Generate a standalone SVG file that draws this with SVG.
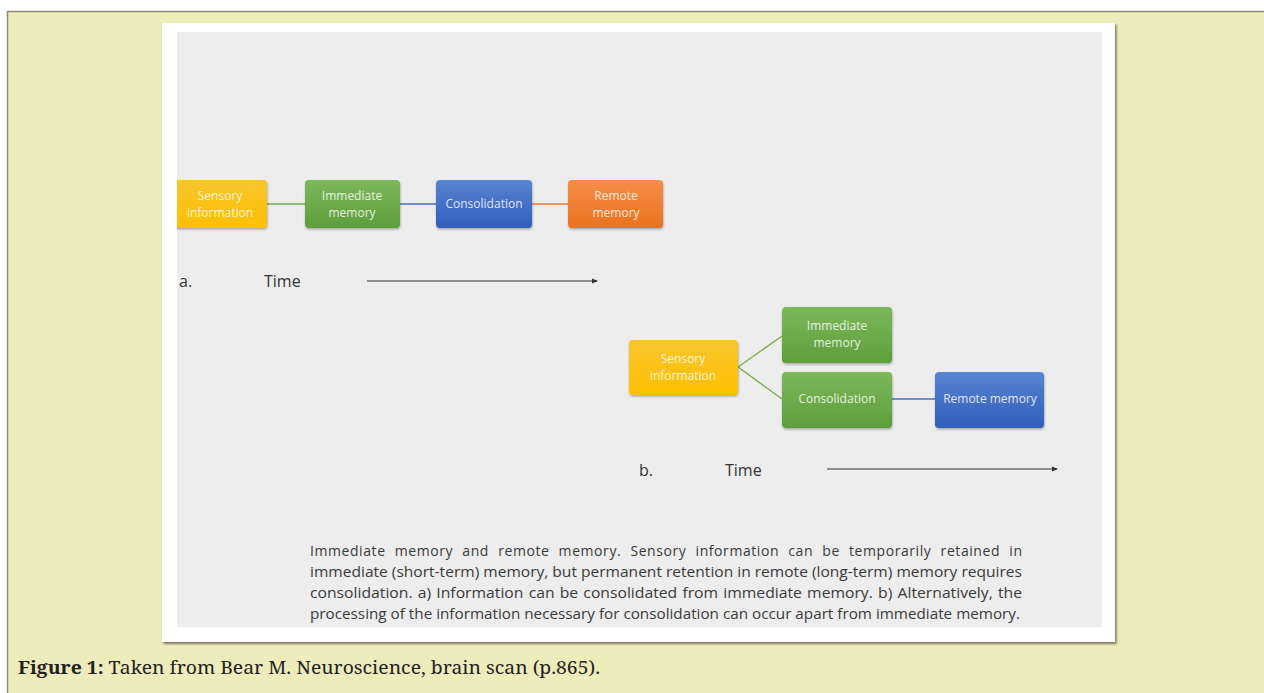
<svg xmlns="http://www.w3.org/2000/svg" width="1264" height="693" viewBox="0 0 1264 693">
<style>
.lbl{font-family:"Open Sans","Liberation Sans",sans-serif;font-size:12px;fill:#ffffff;fill-opacity:0.85;text-anchor:middle}
.tm{font-family:"Open Sans","Liberation Sans",sans-serif;font-size:16px;fill:#333333}
.par{font-family:"Open Sans","Liberation Sans",sans-serif;font-size:14px;fill:#3a3a3a}
.cap{font-family:"Noto Serif","Liberation Serif",serif;font-size:18px;fill:#222222}
.ln{fill:none;stroke-width:1.3}
.arr{fill:none;stroke:#333333;stroke-width:1.2;marker-end:url(#ah)}
</style>
<defs>
<linearGradient id="gy" x1="0" y1="0" x2="0" y2="1"><stop offset="0" stop-color="#F7C52E"/><stop offset="1" stop-color="#FFC000"/></linearGradient>
<linearGradient id="gg" x1="0" y1="0" x2="0" y2="1"><stop offset="0" stop-color="#7DB85A"/><stop offset="1" stop-color="#5E9E3B"/></linearGradient>
<linearGradient id="gb" x1="0" y1="0" x2="0" y2="1"><stop offset="0" stop-color="#5A83D2"/><stop offset="1" stop-color="#2F5EBB"/></linearGradient>
<linearGradient id="go" x1="0" y1="0" x2="0" y2="1"><stop offset="0" stop-color="#F68E47"/><stop offset="1" stop-color="#EA721F"/></linearGradient>
<filter id="sh" x="-10%" y="-10%" width="130%" height="140%"><feDropShadow dx="0.5" dy="1.5" stdDeviation="1" flood-color="#000" flood-opacity="0.3"/></filter>
<filter id="fsh" x="-5%" y="-5%" width="110%" height="110%"><feDropShadow dx="1.5" dy="2" stdDeviation="1.2" flood-color="#000" flood-opacity="0.5"/></filter>
<marker id="ah" markerWidth="6" markerHeight="6" refX="5" refY="3" orient="auto" markerUnits="userSpaceOnUse"><path d="M0,0.5 L6,3 L0,5.5 Z" fill="#333333"/></marker>
<clipPath id="gclip"><rect x="177" y="32" width="925" height="595"/></clipPath>
</defs>
<rect x="0" y="0" width="1264" height="693" fill="#ffffff"/>
<rect x="7.5" y="11.5" width="1270" height="700" fill="#EFECBB" stroke="#8A8A7C" stroke-width="1.5"/>
<rect x="162" y="23" width="953" height="619" fill="#ffffff" filter="url(#fsh)"/>
<rect x="177" y="32" width="925" height="595" fill="#EDEDED"/>

<g id="connectors">
<line class="ln" x1="267" y1="204" x2="305" y2="204" stroke="#70AD47"/>
<line class="ln" x1="400" y1="204" x2="436" y2="204" stroke="#4472C4"/>
<line class="ln" x1="532" y1="204" x2="568" y2="204" stroke="#ED7D31"/>
<line class="ln" x1="738" y1="367" x2="782" y2="336" stroke="#70AD47" stroke-width="1.8"/>
<line class="ln" x1="738" y1="367" x2="782" y2="399" stroke="#70AD47" stroke-width="1.8"/>
<line class="ln" x1="892" y1="399" x2="935" y2="399" stroke="#4472C4"/>
<line class="arr" x1="367" y1="281" x2="597" y2="281"/>
<line class="arr" x1="827" y1="469" x2="1057" y2="469"/>
</g>

<g id="a-sensory" clip-path="url(#gclip)">
<rect x="168" y="180" width="99" height="48" rx="4" fill="url(#gy)" filter="url(#sh)"/>
<text class="lbl" x="220" y="200">Sensory</text>
<text class="lbl" x="220" y="217">information</text>
</g>
<g id="a-immediate">
<rect x="305" y="180" width="95" height="48" rx="4" fill="url(#gg)" filter="url(#sh)"/>
<text class="lbl" x="352" y="200">Immediate</text>
<text class="lbl" x="352" y="217">memory</text>
</g>
<g id="a-consolidation">
<rect x="436" y="180" width="96" height="48" rx="4" fill="url(#gb)" filter="url(#sh)"/>
<text class="lbl" x="484" y="208">Consolidation</text>
</g>
<g id="a-remote">
<rect x="568" y="180" width="95" height="48" rx="4" fill="url(#go)" filter="url(#sh)"/>
<text class="lbl" x="616" y="200">Remote</text>
<text class="lbl" x="616" y="217">memory</text>
</g>

<g id="a-time">
<text class="tm" x="179" y="287">a.</text>
<text class="tm" x="264" y="287">Time</text>
</g>

<g id="b-sensory">
<rect x="629" y="340" width="109" height="55" rx="4" fill="url(#gy)" filter="url(#sh)"/>
<text class="lbl" x="683" y="363">Sensory</text>
<text class="lbl" x="683" y="380">information</text>
</g>
<g id="b-immediate">
<rect x="782" y="307" width="110" height="56" rx="4" fill="url(#gg)" filter="url(#sh)"/>
<text class="lbl" x="837" y="330">Immediate</text>
<text class="lbl" x="837" y="347">memory</text>
</g>
<g id="b-consolidation">
<rect x="782" y="372" width="110" height="56" rx="4" fill="url(#gg)" filter="url(#sh)"/>
<text class="lbl" x="837" y="403">Consolidation</text>
</g>
<g id="b-remote">
<rect x="935" y="372" width="109" height="56" rx="4" fill="url(#gb)" filter="url(#sh)"/>
<text class="lbl" x="990" y="403">Remote memory</text>
</g>

<g id="b-time">
<text class="tm" x="639" y="476">b.</text>
<text class="tm" x="725" y="476">Time</text>
</g>

<g id="paragraph">
<text class="par" x="310" y="556" word-spacing="5" textLength="712" lengthAdjust="spacing">Immediate memory and remote memory. Sensory information can be temporarily retained in</text>
<text class="par" x="310" y="577" textLength="712" lengthAdjust="spacingAndGlyphs">immediate (short-term) memory, but permanent retention in remote (long-term) memory requires</text>
<text class="par" x="310" y="598" word-spacing="1" textLength="712" lengthAdjust="spacingAndGlyphs">consolidation. a) Information can be consolidated from immediate memory. b) Alternatively, the</text>
<text class="par" x="310" y="619" textLength="710" lengthAdjust="spacingAndGlyphs">processing of the information necessary for consolidation can occur apart from immediate memory.</text>
</g>

<g id="caption">
<text class="cap" x="18" y="674" textLength="582" lengthAdjust="spacingAndGlyphs"><tspan font-weight="bold">Figure 1:</tspan> Taken from Bear M. Neuroscience, brain scan (p.865).</text>
</g>
</svg>
